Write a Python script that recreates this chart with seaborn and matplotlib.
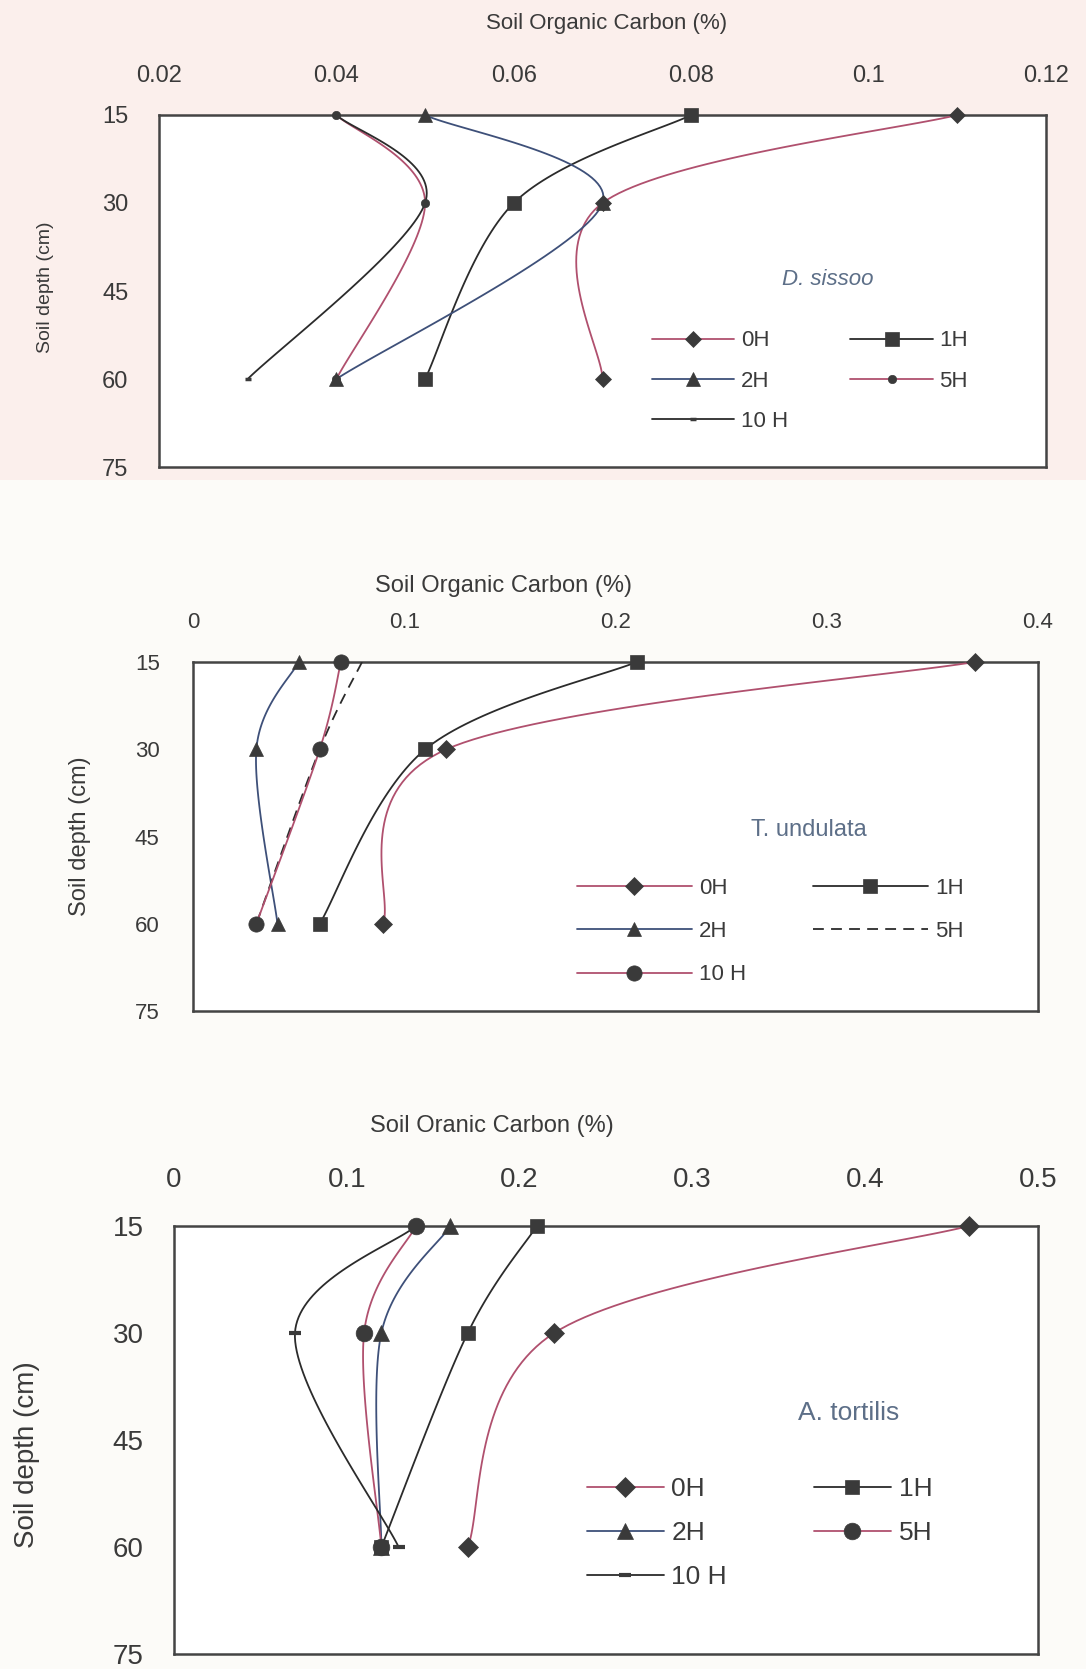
import numpy as np
import pandas as pd
import matplotlib
matplotlib.use("Agg")
import matplotlib.pyplot as plt
from matplotlib.lines import Line2D
from matplotlib.patches import Rectangle
import seaborn as sns

# ---------------- data ----------------
depth = [15, 30, 60]
series_names = ["0H", "1H", "2H", "5H", "10 H"]

# D. sissoo
ds_0H = [0.110, 0.070, 0.070]
ds_1H = [0.080, 0.060, 0.050]
ds_2H = [0.050, 0.070, 0.040]
ds_5H = [0.040, 0.050, 0.040]
ds_10H = [0.040, 0.050, 0.030]

# T. undulata
tu_0H = [0.37, 0.12, 0.09]
tu_1H = [0.21, 0.11, 0.06]
tu_2H = [0.05, 0.03, 0.04]
tu_5H = [0.08, 0.06, 0.03]
tu_10H = [0.07, 0.06, 0.03]

# A. tortilis
at_0H = [0.46, 0.22, 0.17]
at_1H = [0.21, 0.17, 0.12]
at_2H = [0.16, 0.12, 0.12]
at_5H = [0.14, 0.11, 0.12]
at_10H = [0.14, 0.07, 0.13]

ds_xticks = [0.02, 0.04, 0.06, 0.08, 0.1, 0.12]
ds_xticklabels = ["0.02", "0.04", "0.06", "0.08", "0.1", "0.12"]
tu_xticks = [0, 0.1, 0.2, 0.3, 0.4]
tu_xticklabels = ["0", "0.1", "0.2", "0.3", "0.4"]
at_xticks = [0, 0.1, 0.2, 0.3, 0.4, 0.5]
at_xticklabels = ["0", "0.1", "0.2", "0.3", "0.4", "0.5"]
yticks = [15, 30, 45, 60, 75]
yticklabels = ["15", "30", "45", "60", "75"]

# ---------------- style ----------------
sns.set_theme(style="white")
plt.rcParams["font.family"] = ["Liberation Sans", "DejaVu Sans"]

PINK = "#b0506e"
BLUE = "#3e5079"
BLACK = "#2b2b2b"
MK = "#3a3a3a"
TXT = "#3a3a3a"
SPECIES = "#5d6f88"

W, H = 1086, 1669
fig = plt.figure(figsize=(W / 100, H / 100), dpi=100)
fig.patch.set_facecolor("#fcfbf8")
fig.patches.append(Rectangle((0, 1 - 480 / H), 1, 480 / H, transform=fig.transFigure,
                             facecolor="#fbefec", edgecolor="none", zorder=-10))


def smooth(xv, yv, n=40):
    """Excel-style smoothed line (Catmull-Rom Bezier) through the points."""
    P = np.column_stack([xv, yv]).astype(float)
    k = len(P)
    out = []
    for i in range(k - 1):
        p0 = P[max(i - 1, 0)]
        p1 = P[i]
        p2 = P[i + 1]
        p3 = P[min(i + 2, k - 1)]
        c1 = p1 + (p2 - p0) / 6.0
        c2 = p2 - (p3 - p1) / 6.0
        t = np.linspace(0, 1, n)[:, None]
        seg = ((1 - t) ** 3) * p1 + 3 * ((1 - t) ** 2) * t * c1 + 3 * (1 - t) * t ** 2 * c2 + t ** 3 * p2
        out.append(seg if i == 0 else seg[1:])
    out = np.vstack(out)
    return out[:, 0], out[:, 1]


def panel(rect, values, styles, xlim, xticks, xticklabels, xlabel, xlabel_xy,
          ylabel_xy, tick_fs, xlab_fs, ylab_fs, xpad, ypad, species, species_xy,
          species_fs, species_style, leg_fs, leg_xy, leg_handlelen, leg_colsp,
          leg_lsp):
    ax = fig.add_axes(rect)
    ax.set_facecolor("white")
    for name, xv in zip(series_names, values):
        st = styles[name]
        sx, sy = smooth(xv, depth)
        df = pd.DataFrame({"soc": sx, "depth": sy})
        sns.lineplot(data=df, x="soc", y="depth", sort=False, estimator=None,
                     color=st["color"], lw=1.3, linestyle=st.get("ls", "-"),
                     ax=ax, zorder=3)
        if st.get("marker"):
            ax.plot(xv, depth, ls="none", marker=st["marker"], ms=st["ms"],
                    mfc=MK, mec=MK, mew=st.get("mew", 0.5), zorder=5, clip_on=False)
    ax.set_xlim(*xlim)
    ax.set_ylim(75, 15)
    ax.xaxis.tick_top()
    ax.xaxis.set_label_position("top")
    ax.set_xticks(xticks)
    ax.set_xticklabels(xticklabels)
    ax.set_yticks(yticks)
    ax.set_yticklabels(yticklabels)
    ax.tick_params(axis="x", length=0, pad=xpad, labelsize=tick_fs, labelcolor=TXT)
    ax.tick_params(axis="y", length=0, pad=ypad, labelsize=tick_fs, labelcolor=TXT)
    ax.set_xlabel(xlabel, fontsize=xlab_fs, color=TXT, va="center", ha="center")
    ax.xaxis.set_label_coords(*xlabel_xy)
    ax.set_ylabel("Soil depth (cm)", fontsize=ylab_fs, color=TXT, va="center", ha="center")
    ax.yaxis.set_label_coords(*ylabel_xy)
    for sp in ax.spines.values():
        sp.set_visible(True)
        sp.set_color("#444444")
        sp.set_linewidth(1.8)
    ax.text(species_xy[0], species_xy[1], species, transform=ax.transAxes,
            fontsize=species_fs, style=species_style, color=SPECIES,
            ha="center", va="center")
    handles = {}
    for name in series_names:
        st = styles[name]
        handles[name] = Line2D([], [], color=st["color"], lw=1.3, ls=st.get("ls", "-"),
                               marker=st.get("marker") or None, ms=st["ms"] if st.get("marker") else 0,
                               mfc=MK, mec=MK, mew=st.get("mew", 0.5))
    order = ["0H", "2H", "10 H", "1H", "5H"]
    ax.legend([handles[o] for o in order], order, ncol=2,
              loc="upper left", bbox_to_anchor=leg_xy, frameon=False,
              fontsize=leg_fs, handlelength=leg_handlelen, handletextpad=0.3,
              columnspacing=leg_colsp, labelspacing=leg_lsp, borderpad=0,
              borderaxespad=0, labelcolor=TXT)
    return ax


def frac_rect(left, right, top, bottom):
    return [left / W, 1 - bottom / H, (right - left) / W, (bottom - top) / H]


# ---------- panel 1: D. sissoo ----------
styles1 = {
    "0H": dict(color=PINK, marker="D", ms=8),
    "1H": dict(color=BLACK, marker="s", ms=10),
    "2H": dict(color=BLUE, marker="^", ms=10),
    "5H": dict(color=PINK, marker="o", ms=6),
    "10 H": dict(color=BLACK, marker="_", ms=5, mew=2.5),
}
panel(frac_rect(159, 1046, 115, 467),
      [ds_0H, ds_1H, ds_2H, ds_5H, ds_10H], styles1,
      (0.02, 0.12), ds_xticks, ds_xticklabels,
      "Soil Organic Carbon (%)", (0.505, 1.261), (-0.1285, 0.511),
      17, 16, 14, 20, 22,
      "D. sissoo", (0.754, 0.534), 16, "italic",
      16, (0.556, 0.388), 3.7, 2.8, 0.87)

# ---------- panel 2: T. undulata ----------
styles2 = {
    "0H": dict(color=PINK, marker="D", ms=9),
    "1H": dict(color=BLACK, marker="s", ms=10),
    "2H": dict(color=BLUE, marker="^", ms=10),
    "5H": dict(color=BLACK, marker=None, ms=0, ls=(0, (6, 4))),
    "10 H": dict(color=PINK, marker="o", ms=11),
}
panel(frac_rect(193, 1038, 662, 1011),
      [tu_0H, tu_1H, tu_2H, tu_5H, tu_10H], styles2,
      (0, 0.4), tu_xticks, tu_xticklabels,
      "Soil Organic Carbon (%)", (0.367, 1.218), (-0.134, 0.501),
      16, 17, 17, 21, 24,
      "T. undulata", (0.729, 0.519), 17, "normal",
      16, (0.454, 0.381), 5.2, 3.0, 1.0)

# ---------- panel 3: A. tortilis ----------
styles3 = {
    "0H": dict(color=PINK, marker="D", ms=10),
    "1H": dict(color=BLACK, marker="s", ms=10),
    "2H": dict(color=BLUE, marker="^", ms=11),
    "5H": dict(color=PINK, marker="o", ms=12),
    "10 H": dict(color=BLACK, marker="_", ms=8, mew=3),
}
panel(frac_rect(174, 1038, 1226, 1654),
      [at_0H, at_1H, at_2H, at_5H, at_10H], styles3,
      (0, 0.5), at_xticks, at_xticklabels,
      "Soil Oranic Carbon (%)", (0.368, 1.234), (-0.170, 0.465),
      20, 17, 20, 24, 22,
      "A. tortilis", (0.781, 0.563), 19, "normal",
      19, (0.478, 0.413), 2.9, 3.3, 0.75)

fig.savefig("out.png", dpi=100, facecolor=fig.get_facecolor())
